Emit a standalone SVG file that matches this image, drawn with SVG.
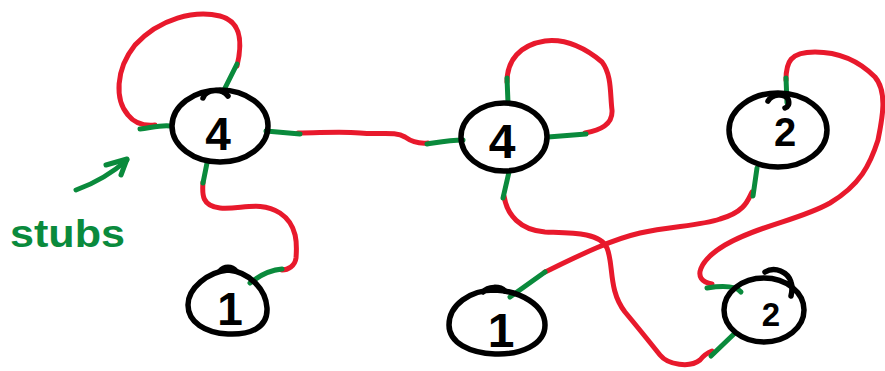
<svg xmlns="http://www.w3.org/2000/svg" width="885" height="371" viewBox="0 0 885 371">
<style>
.node{fill:none;stroke:#000;stroke-width:5.5;stroke-linecap:round;stroke-linejoin:round}
.red{fill:none;stroke:#e8192c;stroke-width:5;stroke-linecap:round;stroke-linejoin:round}
.grn{fill:none;stroke:#0a8a3c;stroke-width:5;stroke-linecap:round;stroke-linejoin:round}
.num{font-family:"Liberation Sans",Arial,sans-serif;font-weight:bold;fill:#000;text-anchor:middle}
.lbl{font-family:"Liberation Sans",Arial,sans-serif;font-weight:bold;fill:#0a8a3c}
</style>
<rect width="885" height="371" fill="#fff"/>
<g id="connectors">
<path class="red" d="M237,66 C242,45 243,22 220,16 C195,10 160,18 135,45 C115,70 115,100 128,115 C135,124 145,126 155,125"/>
<path class="red" d="M298,133 C320,133 340,131 360,133 C380,135 395,131 405,137 C412,142 418,144 428,143"/>
<path class="red" d="M203,182 C202,195 202,206 220,208 C240,210 260,200 280,213 C298,225 297,245 296,258 C295,266 288,270 282,270"/>
<path class="red" d="M507,82 C507,60 520,45 545,41 C570,38 590,52 602,62 C612,75 610,95 612,110 C613,125 600,130 585,133"/>
<path class="red" d="M504,196 C507,215 520,230 545,232 C570,233 600,232 607,248 C614,265 608,290 625,312 C640,330 652,345 660,355 C668,365 690,368 700,360 C704,355 707,353 712,351"/>
<path class="red" d="M545,272 C580,255 610,240 640,233 C670,226 700,226 720,219 C745,212 748,200 752,192"/>
<path class="red" d="M786,80 C786,62 790,52 815,52 C840,52 860,62 875,77 C888,92 882,120 878,140 C870,165 860,185 830,203 C800,220 760,225 725,245 C700,260 690,280 712,284"/>
<path class="grn" d="M223,92 L237,64"/>
<path class="grn" d="M140,129 C150,128 160,125 170,126"/>
<path class="grn" d="M266,131 L300,134"/>
<path class="grn" d="M207,163 L203,183"/>
<path class="grn" d="M250,283 C260,275 270,270 282,269"/>
<path class="grn" d="M427,144 C440,142 450,140 463,140"/>
<path class="grn" d="M508,103 L507,78"/>
<path class="grn" d="M548,137 L586,134"/>
<path class="grn" d="M509,172 L503,198"/>
<path class="grn" d="M510,297 L545,272"/>
<path class="grn" d="M757,168 L753,196"/>
<path class="grn" d="M787,103 L786,78"/>
<path class="grn" d="M707,288 C720,286 735,285 741,292"/>
<path class="grn" d="M711,356 L735,333"/>
</g>
<g id="node-a">
<ellipse class="node" cx="220" cy="126" rx="48" ry="36"/>
<path class="node" d="M203,98 C206,89 222,88 228,96"/>
<text class="num" x="218" y="150" font-size="46">4</text>
</g>
<g id="node-b">
<path class="node" d="M228,270 C250,272 266,290 267,308 C268,328 250,335 228,334 C205,333 188,322 188,305 C188,288 208,272 228,270 Z"/>
<path class="node" d="M220,271 C224,266 232,266 236,271"/>
<text class="num" x="230" y="325" font-size="46">1</text>
</g>
<g id="node-c">
<ellipse class="node" cx="504" cy="137" rx="43" ry="34"/>
<text class="num" x="502" y="158" font-size="48">4</text>
</g>
<g id="node-d">
<path class="node" d="M495,290 C520,291 545,305 545,325 C545,345 520,355 495,354 C470,353 449,343 449,325 C449,305 470,290 495,290 Z"/>
<path class="node" d="M483,292 C488,286 500,286 505,291"/>
<text class="num" x="501" y="347" font-size="48">1</text>
</g>
<g id="node-e">
<ellipse class="node" cx="778" cy="130" rx="49" ry="37"/>
<path class="node" d="M768,101 C772,94 784,93 788,99 C790,104 788,107 785,108"/>
<text class="num" x="785" y="146" font-size="40">2</text>
</g>
<g id="node-f">
<ellipse class="node" cx="764" cy="310" rx="40" ry="32"/>
<path class="node" d="M765,272 C775,266 788,272 791,282 C793,288 792,292 791,296"/>
<text class="num" x="771" y="326" font-size="33">2</text>
</g>
<g id="annotation">
<path class="grn" d="M76,190 C90,185 110,175 127,160" stroke-width="6"/>
<path class="grn" d="M106,165 L127,159 L121,175" stroke-width="6"/>
<text class="lbl" x="10" y="247" font-size="38" textLength="115" lengthAdjust="spacingAndGlyphs">stubs</text>
</g>
</svg>
